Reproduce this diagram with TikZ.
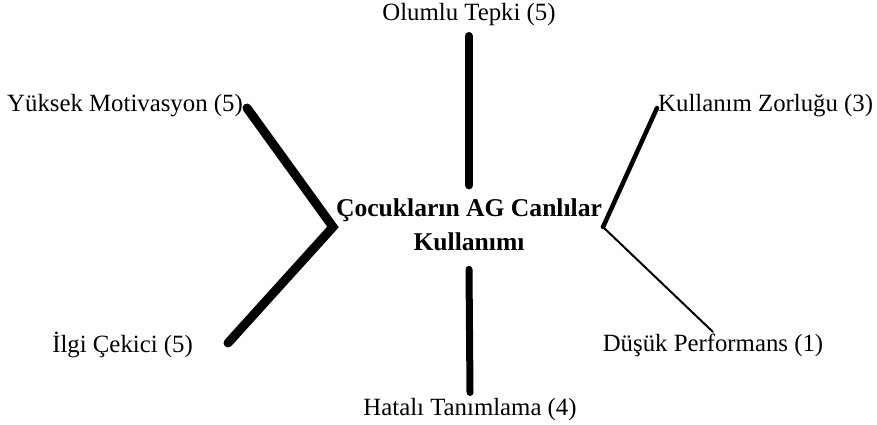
\documentclass[tikz,border=0pt]{standalone}
\usepackage{fontspec}
\setmainfont{Liberation Serif}
\usetikzlibrary{positioning,calc}

\begin{document}
\begin{tikzpicture}[x=1pt, y=-1pt,
  lbl/.style={inner sep=2pt, font=\fontsize{24.8}{29}\selectfont},
  hub/.style={inner sep=4pt, align=center, font=\fontsize{25.6}{34}\selectfont\bfseries},
  link/.style={line cap=round, line width=#1pt}]
\useasboundingbox (0,0) rectangle (877,425);
\node[hub] (core) at (469,224.6) {Çocukların AG Canlılar\\Kullanımı};
\node[lbl, anchor=base] (olumlu) at (469,21) {Olumlu Tepki (5)};
\node[lbl, anchor=base east] (motiv) at (245,111) {Yüksek Motivasyon (5)};
\node[lbl, anchor=base east] (ilgi) at (195,352) {İlgi Çekici (5)};
\node[lbl, anchor=base west] (zorluk) at (656,111) {Kullanım Zorluğu (3)};
\node[lbl, anchor=base] (perf) at (713,351) {Düşük Performans (1)};
\node[lbl, anchor=base] (hata) at (470,415) {Hatalı Tanımlama (4)};
\coordinate (lj) at (333,227);
\coordinate (rj) at (603,227);
% tepki kollari
\draw[link=8] ($(olumlu.base)+(0,15)$) -- ($(core.north)+(0,-9)$);
\draw[link=7] ($(core.south)+(0,14.5)$) -- ($(hata.base)+(0,-22.5)$);
\draw[link=9] ($(motiv.base east)+(2,-3)$) -- (lj) -- ($(ilgi.base east)+(33,-9)$);
\draw[link=4.5] ($(zorluk.base west)+(1,-3)$) -- (rj);
\draw[link=2] (rj) -- ($(perf.base)+(0,-19)$);
\end{tikzpicture}
\end{document}
